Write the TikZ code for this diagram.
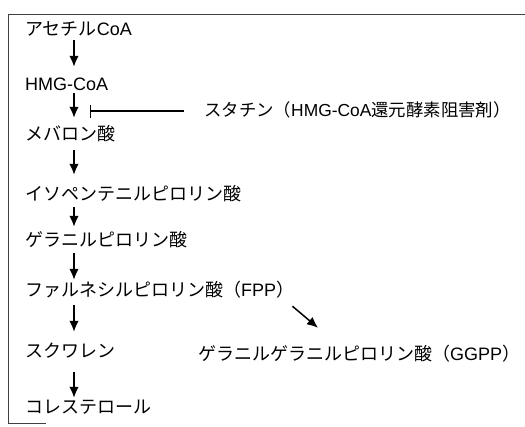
\documentclass[tikz,border=0pt]{standalone}
\usepackage{fontspec}
\setmainfont{Liberation Sans}
\newfontfamily\jpfont{Noto Sans CJK JP}
\newcommand{\jpn}[1]{{\jpfont #1}}
\usetikzlibrary{arrows.meta,calc}
\begin{document}
\begin{tikzpicture}[x=1pt,y=-1pt,
  lbl/.style={anchor=base west,inner sep=0pt,text height=13pt,text depth=3pt,font=\fontsize{18}{20}\selectfont},
  flow/.style={-{Latex[length=11pt,width=9.5pt]},line width=1.5pt,shorten <=2pt,shorten >=5pt},
  inhib/.style={-{Bar[width=13pt]},line width=1.2pt,shorten <=20pt},
  frameline/.style={draw=black!75,line width=0.9pt}]
\useasboundingbox (0,0) rectangle (525,426);
\draw[frameline] (525,14) -- (8,14) -- (8,423) -- (46,423);
\coordinate (ax) at (74,0);
\node[lbl] (acoa) at (25,35) {\jpn{アセチル}CoA};
\node[lbl] (hmg) at (25,90) {HMG-CoA};
\node[lbl] (mev) at (25,140) {\jpn{メバロン酸}};
\node[lbl] (ipp) at (25,200) {\jpn{イソペンテニルピロリン酸}};
\node[lbl] (gpp) at (25,246) {\jpn{ゲラニルピロリン酸}};
\node[lbl] (fpp) at (25,296) {\jpn{ファルネシルピロリン酸（}FPP\jpn{）}};
\node[lbl] (sq) at (25,357) {\jpn{スクワレン}};
\node[lbl] (ggpp) at (198,360) {\jpn{ゲラニルゲラニルピロリン酸（}GGPP\jpn{）}};
\node[lbl] (chol) at (25,413) {\jpn{コレステロール}};
\node[lbl,font=\fontsize{17.4}{20}\selectfont] (statin) at (204,116) {\jpn{スタチン（}HMG-CoA\jpn{還元酵素阻害剤）}};
\coordinate (inh) at (90,111);
\draw[flow,shorten >=10pt] (acoa.south -| ax) -- (hmg.north -| ax);
\draw[flow,shorten <=0pt,shorten >=9pt] (hmg.south -| ax) -- (mev.north -| ax);
\draw[flow,shorten <=7pt,shorten >=12pt] (mev.south -| ax) -- (ipp.north -| ax);
\draw[flow,shorten <=4pt,shorten >=6pt] (ipp.south -| ax) -- (gpp.north -| ax);
\draw[flow,shorten <=4pt,shorten >=3pt] (gpp.south -| ax) -- (fpp.north -| ax);
\draw[flow,shorten <=6pt,shorten >=12pt] (fpp.south -| ax) -- (sq.north -| ax);
\draw[flow,shorten <=12pt,shorten >=2pt] (sq.south -| ax) -- (chol.north -| ax);
\draw[inhib] (statin.west) -- (inh);
\draw[flow,shorten <=0pt,shorten >=0pt] ($(fpp.south east)+(-2,7)$) -- ($(ggpp.north west)+(120,-19)$);
\end{tikzpicture}
\end{document}
